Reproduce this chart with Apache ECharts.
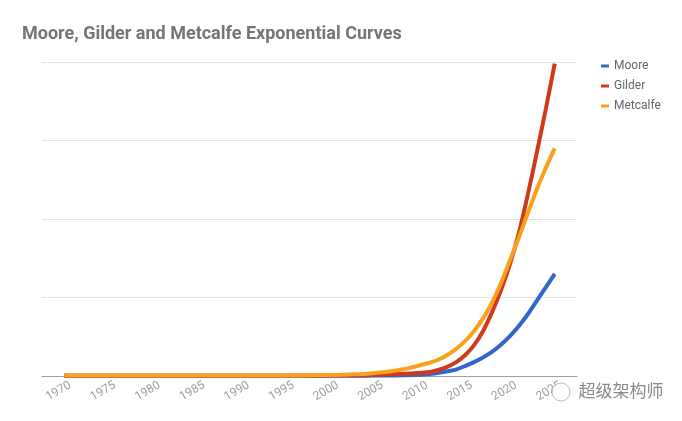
<!DOCTYPE html>
<html>
<head>
<meta charset="utf-8">
<script src="https://cdn.jsdelivr.net/npm/echarts@6/dist/echarts.min.js"></script>
<style>html,body{margin:0;padding:0;background:#fff;}#c{width:682px;height:421px;}</style>
</head>
<body>
<div id="c"></div>
<script>
var tickLabels = ['1970','1975','1980','1985','1990','1995','2000','2005','2010','2015','2020','2025'];
var years = [1970,1975,1980,1985,1990,1995,2000,2002,2004,2006,2008,2010,2011,2012,2013,2014,2015,2016,2017,2018,2019,2020,2021,2022,2023,2024,2025];
var moore = [0.3,0.3,0.3,0.3,0.3,0.3,0.3,0.3,0.4,0.6,0.9,1.5,2.5,4,6,8.5,13,18,24,31,40,51,64,79,96,113,130];
var gilder = [0.3,0.3,0.3,0.3,0.3,0.3,0.5,0.8,1.2,1.8,2.8,4,5,8,12,18,27,40,58,82,110,143,183,232,285,340,398];
var metcalfe = [0.5,0.5,0.5,0.5,0.5,0.6,1.3,2,3,5,8.5,14,17,21,27,35,45,58,74,94,119,148,177,208,238,265,290];

function pairs(vals){ return years.map(function(y,i){ return [y, vals[i]]; }); }

var chart = echarts.init(document.getElementById('c'));
chart.setOption({
  animation: false,
  backgroundColor: '#ffffff',
  title: {
    text: 'Moore, Gilder and Metcalfe Exponential Curves',
    left: 17, top: 20,
    textStyle: { fontFamily: 'Roboto', fontWeight: 'bold', fontSize: 18, color: '#757575' }
  },
  legend: {
    orient: 'vertical',
    left: 596, top: 55,
    itemGap: 8,
    itemWidth: 8, itemHeight: 3,
    icon: 'rect',
    textStyle: { fontFamily: 'Roboto', fontSize: 12, color: '#666666' },
    data: ['Moore','Gilder','Metcalfe']
  },
  grid: { left: 42, right: 105, top: 62, bottom: 45, containLabel: false },
  xAxis: [
    {
      type: 'category',
      data: tickLabels,
      boundaryGap: true,
      axisLine: { lineStyle: { color: '#9e9e9e', width: 1 } },
      axisTick: { show: false },
      axisLabel: { rotate: 30, margin: 12, fontFamily: 'Roboto', fontSize: 12, color: '#a0a0a0', interval: 0, padding: [0, -7, 0, 0] },
      splitLine: { show: false }
    },
    {
      type: 'value',
      min: 1967.5, max: 2027.5,
      show: false,
      splitLine: { show: false }
    }
  ],
  yAxis: {
    type: 'value',
    min: 0, max: 400, interval: 100,
    axisLine: { show: false },
    axisTick: { show: false },
    axisLabel: { show: false },
    splitLine: { lineStyle: { color: '#e3e3e3', width: 1 } }
  },
  series: [
    { name: 'Moore', type: 'line', xAxisIndex: 1, data: pairs(moore), smooth: 0.3, showSymbol: false,
      itemStyle: { color: '#3366cc' }, lineStyle: { color: '#3366cc', width: 4 } },
    { name: 'Gilder', type: 'line', xAxisIndex: 1, data: pairs(gilder), smooth: 0.3, showSymbol: false,
      itemStyle: { color: '#d0391a' }, lineStyle: { color: '#d0391a', width: 4 } },
    { name: 'Metcalfe', type: 'line', xAxisIndex: 1, data: pairs(metcalfe), smooth: 0.3, showSymbol: false,
      itemStyle: { color: '#f9a11b' }, lineStyle: { color: '#f9a11b', width: 4 } }
  ],
  graphic: [
    { type: 'circle', shape: { cx: 561, cy: 392, r: 9 }, style: { fill: 'rgba(255,255,255,0.92)', stroke: '#bbbbbb', lineWidth: 1 }, z: 100 },
    { type: 'text', left: 577, top: 381, style: { text: '超级架构师', fontFamily: 'Noto Sans CJK SC', fontSize: 17, fill: '#8a8a8a', stroke: '#ffffff', lineWidth: 3 }, z: 100 }
  ]
});
</script>
</body>
</html>
